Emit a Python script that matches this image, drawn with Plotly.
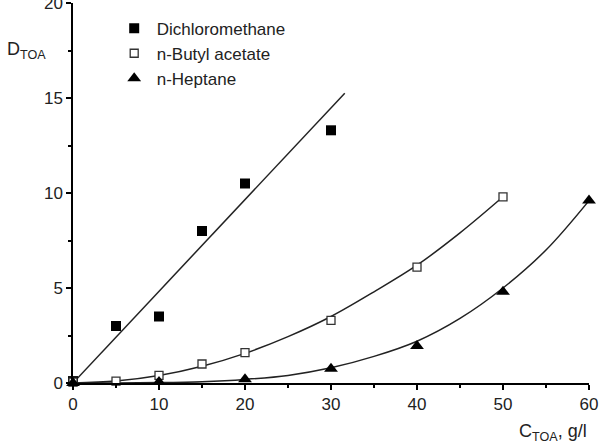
import plotly.graph_objects as go

# Measured data
x_dcm = [0, 5, 10, 15, 20, 30]
y_dcm = [0.1, 3.0, 3.5, 8.0, 10.5, 13.3]
x_ba = [0, 5, 10, 15, 20, 30, 40, 50]
y_ba = [0.05, 0.1, 0.4, 1.0, 1.6, 3.3, 6.1, 9.8]
x_hep = [0, 10, 20, 30, 40, 50, 60]
y_hep = [0.0, 0.05, 0.2, 0.75, 1.95, 4.8, 9.6]

# Fitted curves
fit_dcm_x = [0, 31.6]
fit_dcm_y = [0, 15.25]
fit_ba_x = [0, 5, 10, 15, 20, 25, 30, 35, 40, 45, 50]
fit_ba_y = [0, 0.1, 0.39, 0.88, 1.56, 2.44, 3.5, 4.8, 6.2, 7.9, 9.8]
fit_hep_x = [0, 5, 10, 15, 20, 25, 30, 35, 40, 45, 50, 55, 60]
fit_hep_y = [0, 0.003, 0.02, 0.07, 0.19, 0.4, 0.8, 1.4, 2.2, 3.4, 5.0, 7.0, 9.6]

names = ["Dichloromethane", "n-Butyl acetate", "n-Heptane"]

FONT = "Liberation Sans, Arial"
TXT = "#222222"

fig = go.Figure()
line = dict(color="#222222", width=1.5)
for fx, fy in [(fit_dcm_x, fit_dcm_y), (fit_ba_x, fit_ba_y), (fit_hep_x, fit_hep_y)]:
    fig.add_trace(go.Scatter(x=fx, y=fy, mode="lines", line=dict(line, shape="spline"),
                             showlegend=False, hoverinfo="skip", cliponaxis=False))

fig.add_trace(go.Scatter(x=x_dcm, y=y_dcm, mode="markers", name=names[0],
                         marker=dict(symbol="square", size=10, color="black"), cliponaxis=False))
fig.add_trace(go.Scatter(x=x_ba, y=y_ba, mode="markers", name=names[1],
                         marker=dict(symbol="square", size=8, color="white",
                                     line=dict(color="#333333", width=1.3)), cliponaxis=False))
fig.add_trace(go.Scatter(x=x_hep, y=y_hep, mode="markers", name=names[2],
                         marker=dict(symbol="triangle-up", size=12, color="black"), cliponaxis=False))

axis_common = dict(showline=True, linecolor="black", linewidth=1.5, ticks="outside",
                   ticklen=5, tickwidth=1.5, tickcolor="black", showgrid=False, zeroline=False,
                   ticklabeloverflow="allow", automargin=False,
                   tickfont=dict(family=FONT, size=17, color=TXT))
fig.update_xaxes(range=[0, 60], dtick=10, minor=dict(ticks="outside", ticklen=3, dtick=5,
                                                     tickcolor="black", tickwidth=1.5), **axis_common)
fig.update_yaxes(range=[0, 20], dtick=5, minor=dict(ticks="outside", ticklen=3, dtick=2.5,
                                                    tickcolor="black", tickwidth=1.5), **axis_common)

fig.add_annotation(text="D<sub>TOA</sub>", xref="paper", yref="paper", x=-0.048, y=0.876,
                   xanchor="right", yanchor="middle", showarrow=False,
                   font=dict(family=FONT, size=18, color=TXT))
fig.add_annotation(text="C<sub>TOA</sub>, g/l", xref="paper", yref="paper", x=1.0, y=-0.095,
                   xanchor="right", yanchor="top", showarrow=False,
                   font=dict(family=FONT, size=18, color=TXT))

fig.update_layout(
    width=605, height=444,
    margin=dict(l=73, r=16, t=3, b=61, autoexpand=False),
    paper_bgcolor="white", plot_bgcolor="white",
    legend=dict(x=0.075, y=0.98, xanchor="left", yanchor="top", bgcolor="rgba(0,0,0,0)",
                font=dict(family=FONT, size=17, color=TXT),
                itemwidth=35, tracegroupgap=0),
)
fig.write_html("out.html")
